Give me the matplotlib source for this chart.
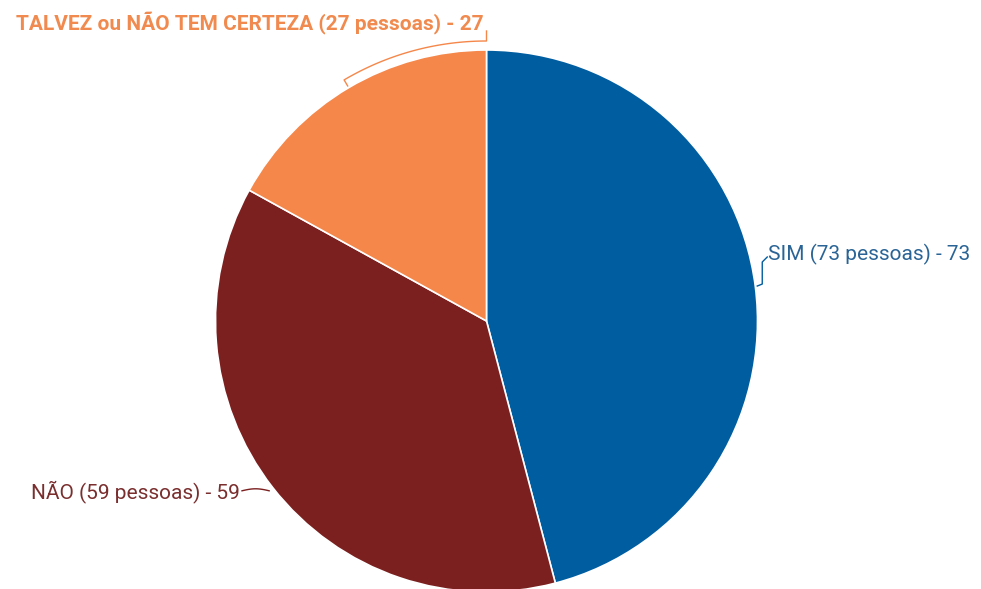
import numpy as np
import matplotlib.pyplot as plt

labels = ["SIM (73 pessoas) - 73", "NÃO (59 pessoas) - 59", "TALVEZ ou NÃO TEM CERTEZA (27 pessoas) - 27"]
values = [73, 59, 27]
colors = ["#005da0", "#7b1f1f", "#f5874a"]
text_colors = ["#2a6496", "#7a2e2e", "#f08a4e"]

plt.rcParams['font.family'] = ['Roboto', 'DejaVu Sans']

W, H = 981, 589
fig = plt.figure(figsize=(W / 100, H / 100), dpi=100)
ax = fig.add_axes([0, 0, 1, 1])

cx, cy, r = 486.5, H - 321, 271
ax.pie(values, colors=colors, startangle=90, counterclock=False,
       center=(cx, cy), radius=r, frame=True,
       wedgeprops=dict(edgecolor='white', linewidth=1.2))
ax.set_xlim(0, W)
ax.set_ylim(0, H)
ax.set_aspect('equal')
ax.axis('off')

# mid angle of each slice (degrees, math convention)
total = sum(values)
start = 90.0
mids = []
for v in values:
    sweep = 360.0 * v / total
    mids.append((start - sweep / 2) % 360)
    start -= sweep

def pt(ang, rad):
    a = np.radians(ang)
    return cx + rad * np.cos(a), cy + rad * np.sin(a)

fs = 15

# SIM connector
x0, y0 = pt(mids[0], r + 2)
ax.plot([x0, x0 + 5, x0 + 5, x0 + 10], [y0, y0 + 2, H - 262, H - 257],
        color=colors[0], lw=1)
ax.text(x0 + 11, H - 254, labels[0], color=text_colors[0], fontsize=fs,
        ha='left', va='center')

# NÃO connector
x0, y0 = pt(mids[1], r + 2)
xs = np.linspace(x0 - 2, 242, 20)
ys = y0 + 2 * np.sin(np.linspace(0, np.pi, 20))
ax.plot(xs, ys - 2, color=colors[1], lw=1)
ax.text(240, ys[-1] - 3, labels[1], color=text_colors[1], fontsize=fs,
        ha='right', va='center')

# TALVEZ connector: arc around the slice then up to the label
arc = np.linspace(mids[2], 90, 40)
arx, ary = pt(arc, r + 9)
sx, sy = pt(mids[2], r + 2)
ax.plot(np.r_[sx, arx, cx], np.r_[sy, ary, H - 31],
        color=colors[2], lw=1)
ax.text(cx - 3, H - 23, labels[2], color=text_colors[2], fontsize=fs,
        fontweight='bold', ha='right', va='center')

fig.savefig('out.png', dpi=100)
